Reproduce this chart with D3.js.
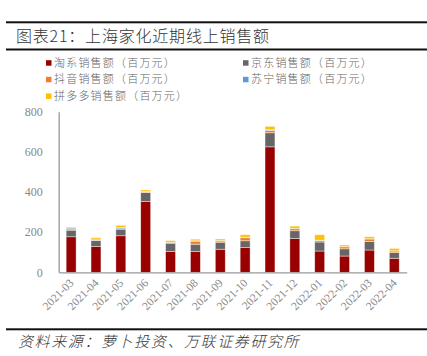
<!DOCTYPE html>
<html><head><meta charset="utf-8">
<script src="https://cdn.jsdelivr.net/npm/d3@7/dist/d3.min.js"></script>
<style>body{margin:0;background:#fff}svg{display:block}</style>
</head><body>
<svg id="c" width="427" height="356"></svg>
<script>
const months = ["2021-03","2021-04","2021-05","2021-06","2021-07","2021-08","2021-09","2021-10","2021-11","2021-12","2022-01","2022-02","2022-03","2022-04"];
const taoxi  = [177,128,182,352,103,103,115,123,625,169,106,81,111,70];
const jd     = [33,30,33,45,42,37,35,34,70,38,45,36,43,28];
const douyin = [2,2,2,3,3,15,6,15,12,10,8,10,12,8];
const suning = [8,5,7,3,2,2,2,3,3,2,1,1,1,1];
const pdd    = [5,7,10,7,8,8,8,12,17,11,27,8,10,12];
const seriesNames = ["淘系销售额（百万元）","京东销售额（百万元）","抖音销售额（百万元）","苏宁销售额（百万元）","拼多多销售额（百万元）"];
const seriesKeys = ["taoxi","jd","douyin","suning","pdd"];
const colors = ["#990000","#666666","#ED7D31","#5B9BD5","#FFC000"];
const yTicks = [0,200,400,600,800];
const titleText = "图表21：上海家化近期线上销售额";
const sourceText = "资料来源：萝卜投资、万联证券研究所";

const table = months.map((m,i)=>({month:m,taoxi:taoxi[i],jd:jd[i],douyin:douyin[i],suning:suning[i],pdd:pdd[i]}));
const svg = d3.select("#c");
const cjk = "'Noto Sans CJK SC','Noto Sans',sans-serif";
const serif = "'Liberation Serif','DejaVu Serif',serif";

// header
svg.append("rect").attr("x",6).attr("y",21.3).attr("width",421).attr("height",2).attr("fill","#111");
svg.append("text").attr("x",16).attr("y",42).attr("font-family",cjk).attr("font-size",16).attr("font-weight",300).attr("letter-spacing",0.8).attr("fill","#333").text(titleText);
svg.append("rect").attr("x",6).attr("y",48.5).attr("width",421).attr("height",2).attr("fill","#111");

// legend
const legPos = [[46,62.7],[243,62.7],[46,79.3],[243,79.3],[46,95.9]];
seriesNames.forEach((n,i)=>{
  const g = svg.append("g").attr("transform",`translate(${legPos[i][0]},${legPos[i][1]})`);
  g.append("rect").attr("x",0).attr("y",-2.5).attr("width",5.5).attr("height",5.5).attr("fill",colors[i]);
  g.append("text").attr("x",8).attr("y",4).attr("font-family",cjk).attr("font-size",11).attr("font-weight",300).attr("letter-spacing",1.2).attr("fill","#666").text(n);
});

// chart
const x = d3.scaleBand().domain(months).range([58.7,406.7]).paddingInner(0.6).paddingOuter(0.3);
const y = d3.scaleLinear().domain([0,800]).range([272.3,111.7]);
const stack = d3.stack().keys(seriesKeys)(table);

svg.append("g").selectAll("g").data(stack).join("g").attr("fill",(d,i)=>colors[i])
  .selectAll("rect").data(d=>d).join("rect")
  .attr("x",d=>x(d.data.month)).attr("width",x.bandwidth())
  .attr("y",d=>y(d[1])).attr("height",d=>Math.max(0,y(d[0])-y(d[1])))
  .attr("stroke","#fff").attr("stroke-opacity",0.6).attr("stroke-width",0.7);

// axes
const yAxis = d3.axisLeft(y).tickValues(yTicks).tickSize(0).tickPadding(16);
const ya = svg.append("g").attr("transform","translate(58.7,0)").call(yAxis);
ya.select(".domain").attr("stroke","#999").attr("stroke-width",1.3);
ya.selectAll("text").attr("font-family",serif).attr("font-size",12).attr("fill","#888");

const xAxis = d3.axisBottom(x).tickSize(0).tickPadding(4);
const xa = svg.append("g").attr("transform","translate(0,272.3)").call(xAxis);
xa.select(".domain").attr("stroke","#999").attr("stroke-width",1.3);
xa.selectAll("text").attr("font-family",serif).attr("font-size",11.5).attr("fill","#888")
  .attr("text-anchor","end").attr("dy","0.3em")
  .attr("transform","translate(-2,6) rotate(-45)");

// footer
svg.append("rect").attr("x",6).attr("y",328.3).attr("width",421).attr("height",2).attr("fill","#111");
svg.append("text").attr("x",18).attr("y",347).attr("font-family",cjk).attr("font-size",15).attr("font-weight",300).attr("font-style","italic").attr("letter-spacing",1.6).attr("fill","#333").text(sourceText);
</script>
</body></html>
